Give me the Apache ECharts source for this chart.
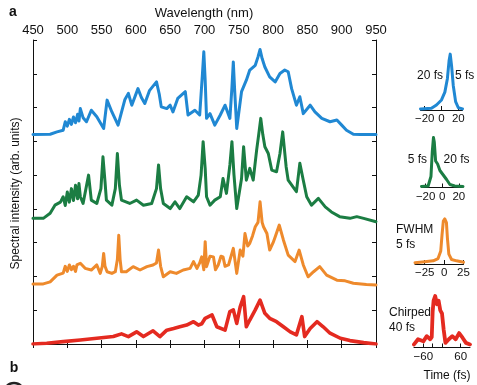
<!DOCTYPE html>
<html>
<head>
<meta charset="utf-8">
<script src="https://cdn.jsdelivr.net/npm/echarts@6/dist/echarts.min.js"></script>
<style>
  html, body { margin: 0; padding: 0; background: #fff; }
  #chart { width: 477px; height: 385px; }
</style>
</head>
<body>
<div id="chart"></div>
<script>
// spectra: [wavelength nm, stacked intensity]
const blueSpectrum = [
  [450, 6.20], [475, 6.21], [485, 6.28], [494, 6.33], [497, 6.58], [500, 6.45], [503, 6.65], [506, 6.5],
  [509, 6.72], [512, 6.55], [515, 6.8], [517, 6.6], [519, 6.97], [523, 6.7], [528, 6.58], [535, 6.92],
  [543, 6.73], [553, 6.38], [558, 7.22], [565, 6.87], [574, 6.48], [584, 7.24], [589, 7.42], [594, 7.07],
  [603, 7.56], [608, 7.3], [613, 7.12], [620, 7.51], [630, 7.76], [634, 7.4], [637, 7.02], [645, 6.97],
  [650, 7.07], [654, 6.87], [661, 7.27], [672, 7.47], [676, 6.78], [686, 6.92], [693, 6.78], [697, 8.0],
  [699, 8.65], [701, 7.8], [703, 6.68], [708, 6.82], [715, 6.48], [723, 6.78], [730, 7.07], [737, 6.68],
  [740, 7.6], [742, 8.35], [744, 7.5], [747, 6.38], [754, 7.47], [761, 7.81], [766, 8.11], [774, 8.25],
  [778, 8.5], [781, 8.72], [784, 8.45], [788, 8.20], [795, 7.91], [803, 7.76], [810, 8.01], [817, 8.11],
  [822, 8.06], [827, 7.56], [834, 7.07], [839, 7.32], [844, 6.82], [854, 7.07], [861, 6.87], [871, 6.68],
  [883, 6.58], [893, 6.63], [900, 6.48], [907, 6.33], [917, 6.21], [927, 6.20], [950, 6.20]
];
const greenSpectrum = [
  [450, 3.72], [465, 3.72], [475, 3.87], [482, 4.11], [490, 4.2], [494, 4.36], [497, 4.1], [500, 4.5],
  [503, 4.2], [506, 4.6], [509, 4.25], [512, 4.7], [515, 4.3], [517, 4.75], [519, 4.36], [523, 4.16],
  [531, 5.00], [535, 4.26], [543, 4.16], [549, 4.6], [552, 5.54], [555, 4.8], [557, 4.26], [565, 4.11],
  [570, 4.6], [573, 5.64], [576, 4.7], [579, 4.26], [591, 4.16], [601, 4.26], [611, 4.11], [623, 4.16],
  [630, 4.6], [633, 5.30], [636, 4.6], [640, 4.16], [650, 4.01], [657, 4.21], [664, 4.01], [674, 4.36],
  [684, 4.21], [691, 4.41], [695, 5.0], [698, 5.99], [701, 5.2], [703, 4.36], [708, 4.11], [715, 4.26],
  [723, 4.36], [727, 4.90], [732, 4.46], [737, 5.3], [740, 5.99], [743, 5.0], [747, 4.01], [754, 4.90],
  [757, 5.84], [761, 4.85], [766, 5.20], [771, 4.85], [776, 5.74], [779, 6.2], [782, 6.68], [785, 6.2],
  [788, 5.84], [793, 5.64], [798, 5.15], [805, 5.10], [810, 5.64], [814, 6.28], [819, 5.25], [822, 4.85],
  [829, 4.65], [834, 4.51], [839, 5.35], [844, 4.85], [849, 4.36], [856, 4.11], [866, 4.31], [876, 4.06],
  [885, 3.91], [897, 3.77], [912, 3.72], [922, 3.77], [932, 3.72], [950, 3.62]
];
const orangeSpectrum = [
  [450, 1.78], [465, 1.78], [475, 1.84], [485, 2.04], [494, 2.1], [497, 2.3], [500, 2.15], [503, 2.34],
  [506, 2.2], [509, 2.3], [512, 2.15], [514, 2.34], [519, 2.39], [526, 2.24], [535, 2.19], [543, 2.34],
  [548, 2.09], [551, 2.3], [553, 2.68], [555, 2.3], [558, 2.14], [565, 2.09], [570, 2.14], [573, 2.5],
  [575, 3.22], [577, 2.5], [579, 2.14], [586, 2.14], [596, 2.29], [606, 2.19], [616, 2.29], [625, 2.34],
  [630, 2.4], [633, 2.78], [636, 2.3], [640, 1.99], [650, 2.14], [659, 2.09], [669, 2.19], [679, 2.24],
  [684, 2.44], [689, 2.24], [693, 2.4], [696, 2.58], [699, 2.2], [701, 3.03], [703, 2.29], [708, 2.6],
  [713, 2.58], [716, 2.2], [720, 2.34], [724, 2.6], [727, 2.58], [730, 2.3], [735, 2.34], [742, 2.83],
  [747, 2.09], [752, 2.78], [756, 2.6], [759, 3.27], [763, 2.9], [766, 2.98], [770, 3.2], [774, 3.47],
  [778, 3.6], [781, 4.21], [784, 3.6], [786, 3.47], [791, 3.27], [795, 2.78], [800, 3.0], [803, 3.17],
  [809, 3.52], [815, 3.08], [822, 2.63], [832, 2.44], [838, 2.78], [844, 2.34], [851, 1.99], [859, 2.14],
  [868, 2.29], [878, 2.04], [893, 1.89], [905, 1.87], [917, 1.80], [936, 1.76], [950, 1.75]
];
const redSpectrum = [
  [450, 0.0], [470, 0.02], [494, 0.07], [519, 0.12], [543, 0.17], [567, 0.22], [579, 0.30], [589, 0.22],
  [601, 0.36], [611, 0.22], [625, 0.39], [635, 0.22], [645, 0.41], [655, 0.46], [664, 0.51], [674, 0.56],
  [684, 0.66], [691, 0.56], [696, 0.6], [701, 0.76], [711, 0.86], [718, 0.51], [730, 0.41], [737, 0.96],
  [742, 1.01], [747, 0.61], [752, 1.10], [757, 1.40], [761, 0.51], [766, 0.71], [774, 1.01], [781, 1.30],
  [788, 0.91], [795, 0.76], [805, 0.66], [815, 0.51], [825, 0.36], [834, 0.27], [842, 0.81], [846, 0.22],
  [854, 0.46], [864, 0.66], [873, 0.51], [883, 0.32], [898, 0.17], [912, 0.10], [932, 0.04], [950, 0.0]
];

// pulses: [time fs, normalised intensity]
const bluePulse = [
  [-25, 0.02], [-12, 0.03], [-6, 0.09], [0, 0.18], [4, 0.32], [7, 0.56], [9, 0.88], [10.4, 1.0],
  [12, 0.79], [14, 0.44], [16.8, 0.15], [20, 0.04], [25, 0.02]
];
const greenPulse = [
  [-25, 0.02], [-17, 0.03], [-13.6, 0.22], [-12, 0.72], [-10.6, 1.0], [-9.6, 0.91], [-8, 0.53],
  [-5.6, 0.47], [-2.8, 0.34], [1.2, 0.25], [5.2, 0.16], [9.2, 0.06], [15, 0.03], [25, 0.02]
];
const orangePulse = [
  [-37.5, 0.03], [-25, 0.05], [-14, 0.07], [-7.8, 0.12], [-4.3, 0.29], [-2.7, 0.64], [-1, 0.95],
  [0.9, 1.0], [3, 0.92], [4.3, 0.57], [6.1, 0.22], [9.6, 0.10], [16, 0.07], [25, 0.04]
];
const redPulse = [
  [-90, 0.06], [-77, 0.16], [-60, 0.12], [-49, 0.22], [-38, 0.16], [-33, 0.2], [-30, 0.7], [-27, 0.91],
  [-22, 1.0], [-16, 0.84], [-11, 0.91], [-5.5, 0.72], [0, 0.66], [5.5, 0.34], [11, 0.09], [22, 0.16],
  [33, 0.22], [44, 0.16], [55, 0.28], [66, 0.19], [77, 0.09], [90, 0.06]
];

const blueTicks = [-20, 0, 20];
const greenTicks = [-20, 0, 20];
const orangeTicks = [-25, 0, 25];
const redTicks = [-60, -30, 0, 60];
const redLabels = [-60, 60];

const FONT = "'Liberation Sans', Arial, Helvetica, sans-serif";
const BLUE = '#2088d3', GREEN = '#1b7d43', ORANGE = '#ee8a2c', RED = '#e42a20';

const chart = echarts.init(document.getElementById('chart'));

const axisLine = { show: true, lineStyle: { color: '#111', width: 1 } };
const minus = v => String(v).replace('-', '\u2212');

// small pulse insets
function insetX(gridIndex, min, max, ticks, labels) {
  return {
    type: 'value', gridIndex, min, max, position: 'bottom',
    axisLine, splitLine: { show: false },
    axisTick: { show: true, inside: true, length: 4, customValues: ticks, lineStyle: { color: '#111' } },
    axisLabel: { show: true, customValues: labels, margin: 3, fontSize: 11.5, color: '#111', fontFamily: FONT, formatter: minus }
  };
}
function insetY(gridIndex) {
  return { type: 'value', gridIndex, min: 0, max: 1.02, show: false };
}
function line(data, color, width, xi, yi) {
  return {
    type: 'line', data, xAxisIndex: xi, yAxisIndex: yi, showSymbol: false, symbol: 'none',
    lineStyle: { color, width, join: 'round', cap: 'round' }, animation: false, silent: true, z: 3
  };
}
function txt(text, x, y, opt) {
  return {
    type: 'text', x, y,
    style: Object.assign({ text, fontSize: 12, fontFamily: FONT, fill: '#111', align: 'center', verticalAlign: 'middle' }, opt || {})
  };
}

chart.setOption({
  animation: false,
  grid: [
    { left: 33, top: 40, width: 343, height: 304, outerBoundsMode: 'none' },
    { left: 420.5, top: 53, width: 42, height: 57, outerBoundsMode: 'none' },
    { left: 421.5, top: 136.5, width: 41.5, height: 51, outerBoundsMode: 'none' },
    { left: 415, top: 218, width: 48.5, height: 46, outerBoundsMode: 'none' },
    { left: 414, top: 295, width: 56, height: 52.5, outerBoundsMode: 'none' }
  ],
  xAxis: [
    {
      type: 'value', gridIndex: 0, min: 450, max: 950, interval: 50, position: 'top',
      axisLine, splitLine: { show: false },
      axisTick: { inside: true, length: 4, lineStyle: { color: '#111' } },
      axisLabel: { margin: 3, fontSize: 13, color: '#111', fontFamily: FONT }
    },
    {
      type: 'value', gridIndex: 0, min: 450, max: 950, interval: 50, position: 'bottom',
      axisLine, splitLine: { show: false },
      axisTick: { inside: true, length: 4, lineStyle: { color: '#111' } },
      axisLabel: { show: false }
    },
    insetX(1, -25, 25, blueTicks, blueTicks),
    insetX(2, -25, 25, greenTicks, greenTicks),
    insetX(3, -37.5, 25, orangeTicks, orangeTicks),
    insetX(4, -90, 90, redTicks, redLabels)
  ],
  yAxis: [
    {
      type: 'value', gridIndex: 0, min: 0, max: 9, interval: 1, position: 'left',
      axisLine, splitLine: { show: false },
      axisTick: { inside: true, length: 4, lineStyle: { color: '#111' } },
      axisLabel: { show: false }
    },
    {
      type: 'value', gridIndex: 0, min: 0, max: 9, interval: 1, position: 'right',
      axisLine, splitLine: { show: false },
      axisTick: { inside: true, length: 4, lineStyle: { color: '#111' } },
      axisLabel: { show: false }
    },
    insetY(1), insetY(2), insetY(3), insetY(4)
  ],
  series: [
    line(blueSpectrum, BLUE, 3, 0, 0),
    line(greenSpectrum, GREEN, 3, 0, 0),
    line(orangeSpectrum, ORANGE, 3, 0, 0),
    line(redSpectrum, RED, 3.6, 0, 0),
    line(bluePulse, BLUE, 3, 2, 2),
    line(greenPulse, GREEN, 3, 3, 3),
    line(orangePulse, ORANGE, 3, 4, 4),
    line(redPulse, RED, 3.8, 5, 5)
  ],
  graphic: [
    txt('a', 13, 12, { fontSize: 14, fontWeight: 'bold' }),
    txt('Wavelength (nm)', 204, 13, { fontSize: 13 }),
    {
      type: 'text', x: 16, y: 193.5, rotation: Math.PI / 2,
      style: { text: 'Spectral intensity (arb. units)', fontSize: 12, fontFamily: FONT, fill: '#111', align: 'center', verticalAlign: 'middle' }
    },
    txt('b', 14, 368, { fontSize: 14, fontWeight: 'bold' }),
    { type: 'circle', shape: { cx: 14, cy: 393, r: 10 }, style: { fill: 'none', stroke: '#222', lineWidth: 2.5 } },
    txt('20 fs', 443, 76, { align: 'right' }),
    txt('5 fs', 455, 76, { align: 'left' }),
    txt('5 fs', 427, 160, { align: 'right' }),
    txt('20 fs', 443.5, 160, { align: 'left' }),
    txt('FWHM', 396, 230, { align: 'left' }),
    txt('5 fs', 396, 245, { align: 'left' }),
    txt('Chirped', 389, 313, { align: 'left' }),
    txt('40 fs', 389, 328, { align: 'left' }),
    txt('Time (fs)', 447, 376)
  ]
});
</script>
</body>
</html>
